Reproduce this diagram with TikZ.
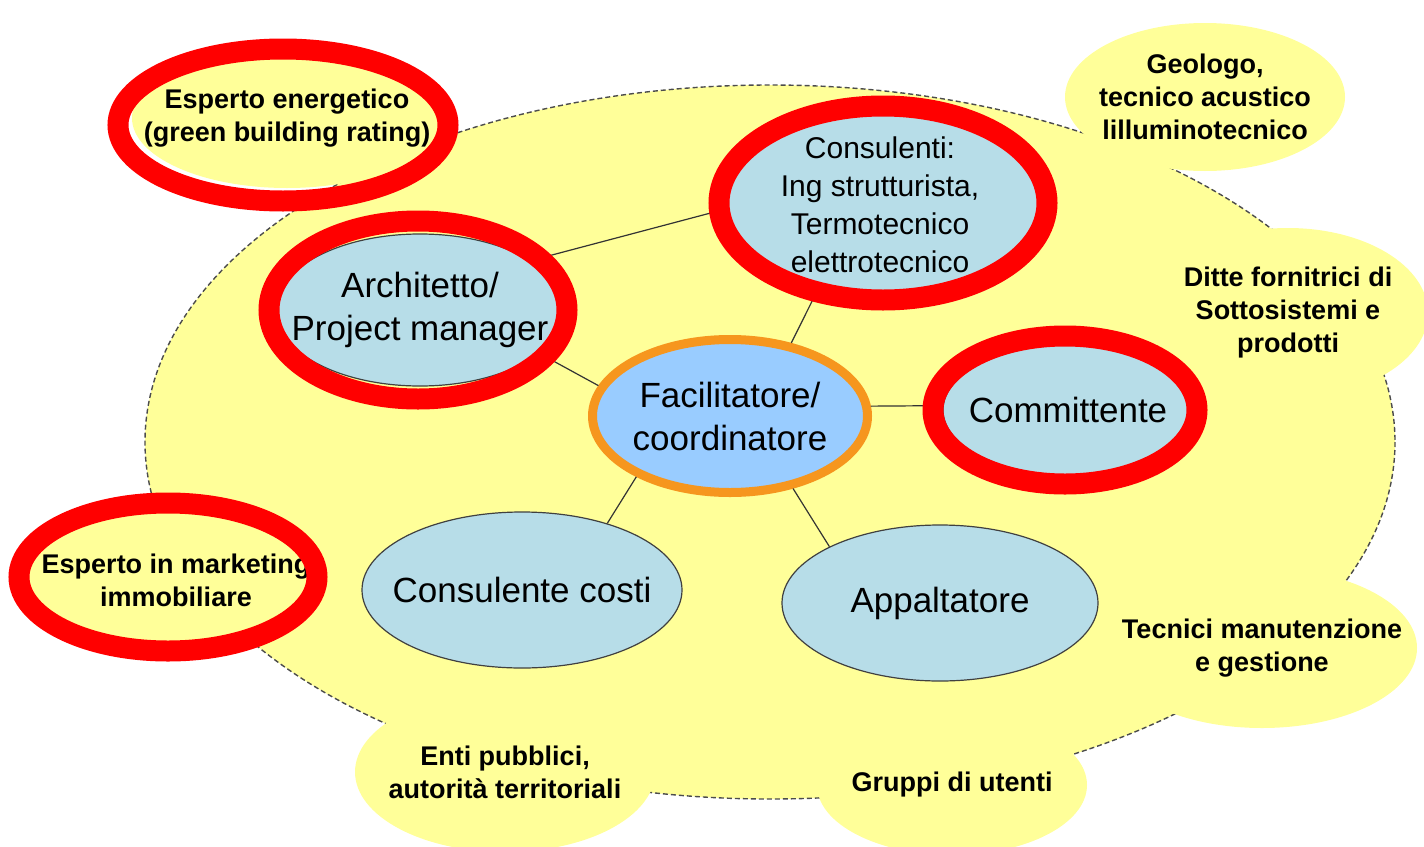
\documentclass[tikz,border=0pt]{standalone}
\usepackage{fontspec}
\setmainfont{Liberation Sans}
\usetikzlibrary{shapes.geometric}
\definecolor{paleyellow}{RGB}{255,255,153}
\definecolor{paleblue}{RGB}{183,221,232}
\definecolor{hubblue}{RGB}{153,204,255}
\definecolor{huborange}{RGB}{246,150,30}
\definecolor{markred}{RGB}{255,0,0}

\begin{document}
\begin{tikzpicture}[x=1pt, y=-1pt,
    bubble/.style = {ellipse, fill=paleyellow, inner xsep=-70pt, inner ysep=-35pt, align=center, font=\fontsize{27}{33}\selectfont\bfseries},
    actor/.style = {ellipse, draw=black!75, line width=1.2pt, fill=paleblue, inner xsep=-70pt, inner ysep=-35pt, align=center, font=\fontsize{35}{43}\selectfont},
    hub/.style = {actor, draw=huborange, line width=9pt, fill=hubblue},
    redring/.style = {ellipse, draw=markred, line width=21pt, inner sep=0pt},
    link/.style = {draw=black!80, line width=1.2pt}]
    \useasboundingbox (0,0) rectangle (1424,846);
    \fill[paleyellow] (770,442) ellipse [x radius=625, y radius=357];
    \draw[black!70, line width=1.4pt, dash pattern=on 5pt off 3pt] (770,442) ellipse [x radius=625, y radius=357];
    \node[bubble, minimum width=310pt, minimum height=140pt] (bene) at (287,118) {Esperto energetico\\(green building rating)};
    \node[bubble, minimum width=280pt, minimum height=148pt] (geo) at (1205,97) {Geologo,\\tecnico acustico\\lilluminotecnico};
    \node[bubble, minimum width=280pt, minimum height=170pt] (ditte) at (1288,313) {Ditte fornitrici di\\Sottosistemi e\\prodotti};
    \node[bubble, minimum width=310pt, minimum height=160pt] (tecn) at (1262,648) {Tecnici manutenzione\\e gestione};
    \node[bubble, minimum width=270pt, minimum height=140pt] (grup) at (952,785) {Gruppi di utenti};
    \node[bubble, minimum width=300pt, minimum height=160pt] (enti) at (505,772) {Enti pubblici,\\autorità territoriali};
    \node[bubble, minimum width=300pt, minimum height=145pt] (mark) at (176,580) {Esperto in marketing\\immobiliare};
    \node[actor, minimum width=290pt, minimum height=152pt] (arch) at (420,310) {Architetto/\\Project manager};
    \node[actor, minimum width=320pt, minimum height=190pt, font=\fontsize{30}{38}\selectfont] (cons) at (880,205) {Consulenti:\\Ing strutturista,\\Termotecnico\\elettrotecnico};
    \node[actor, minimum width=250pt, minimum height=130pt] (comm) at (1068,410) {Committente};
    \node[hub, minimum width=275pt, minimum height=153pt] (fac) at (730,416) {Facilitatore/\\coordinatore};
    \node[actor, minimum width=320pt, minimum height=156pt] (cost) at (522,590) {Consulente costi};
    \node[actor, minimum width=316pt, minimum height=156pt] (appa) at (940,603) {Appaltatore};
    \draw[link] (arch.24) -- (cons.182);
    \draw[link] (arch.-20) -- (fac.167);
    \draw[link] (cons.234) -- (fac.50);
    \draw[link] (fac.4) -- (comm.178);
    \draw[link] (fac.213) -- (cost.38);
    \draw[link] (fac.311) -- (appa.153);
    \node[redring, minimum width=330pt, minimum height=152pt] (ringbene) at (283,125) {};
    \node[redring, minimum width=298pt, minimum height=178pt] (ringarch) at (418,310) {};
    \node[redring, minimum width=328pt, minimum height=194pt] (ringcons) at (883,203) {};
    \node[redring, minimum width=264pt, minimum height=148pt] (ringcomm) at (1065,410) {};
    \node[redring, minimum width=298pt, minimum height=148pt] (ringmark) at (168,577) {};
\end{tikzpicture}
\end{document}
